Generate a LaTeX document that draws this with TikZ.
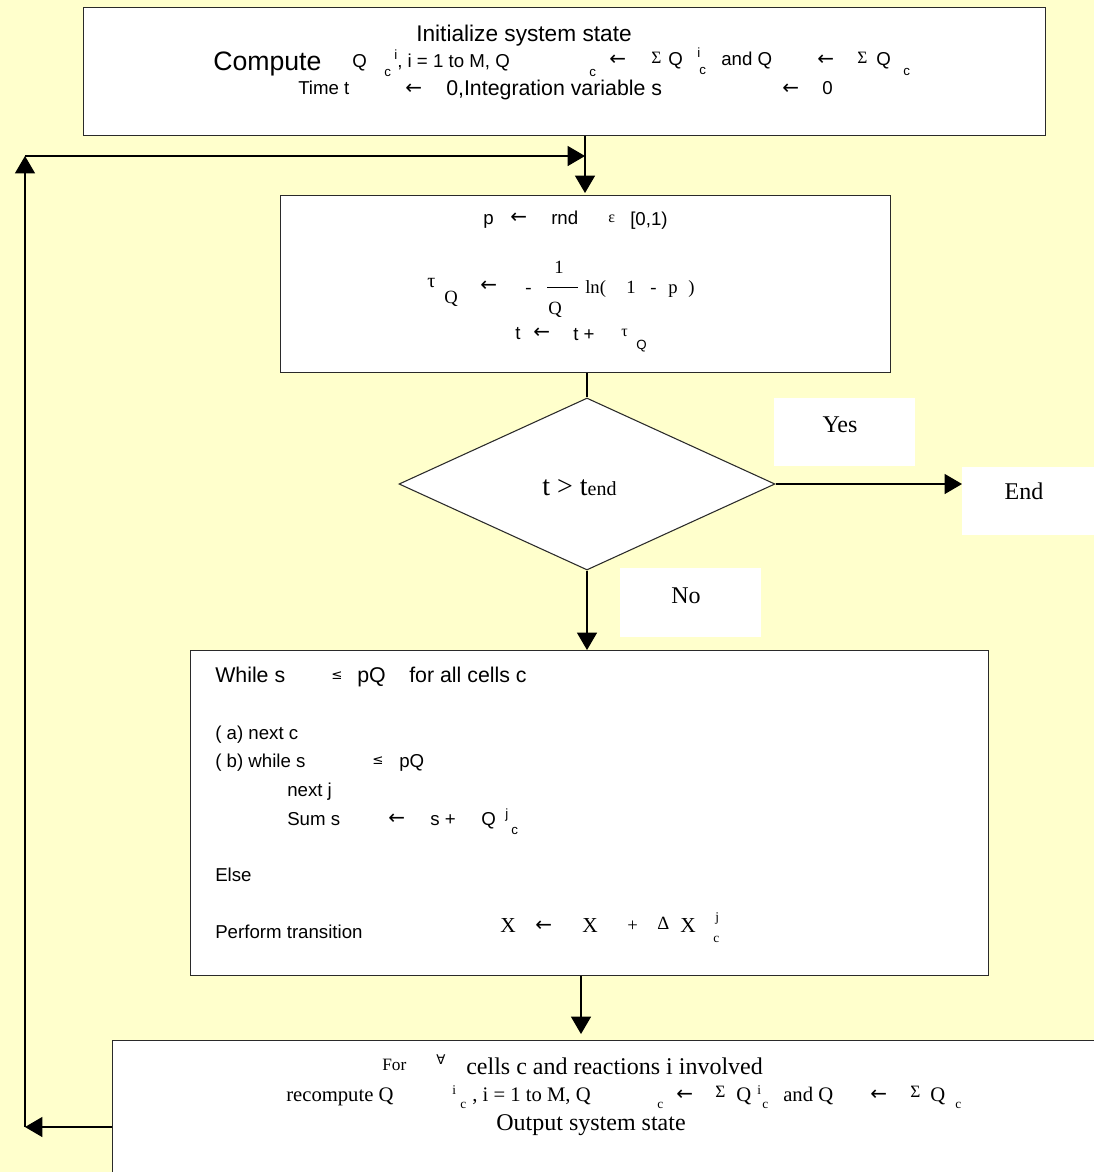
\documentclass[tikz,border=0pt]{standalone}
\usepackage{fontspec}
\setmainfont{Liberation Serif}
\setsansfont{Liberation Sans}
\newfontfamily\symf{DejaVu Sans}
\usetikzlibrary{arrows.meta,shapes.geometric}
\newcommand{\fsz}[1]{\fontsize{#1}{#1}\selectfont}
\definecolor{bgyellow}{HTML}{FFFFCC}
\definecolor{edge}{HTML}{2A2A2A}
\begin{document}
\begin{tikzpicture}[x=0.75pt,y=-0.75pt,
 box/.style={draw=edge, line width=1pt, fill=white, inner sep=0, anchor=north west},
 lab/.style={fill=white, inner sep=0, anchor=north west},
 arr/.style={line width=0.8pt, -{Triangle[length=13pt,width=15pt]}},
 tx/.style={inner sep=0, anchor=mid west, yshift=-3pt},
 sa/.style={tx, font=\sffamily\fsz{14}},
 sb/.style={tx, font=\sffamily\fsz{16}},
 sx/.style={tx, font=\sffamily\fsz{10}},
 ra/.style={tx, font=\rmfamily\fsz{14}},
 rb/.style={tx, font=\rmfamily\fsz{16}},
 rx/.style={tx, font=\rmfamily\fsz{10}},
 rg/.style={tx, font=\rmfamily\fsz{13}},
 ar/.style={tx, font=\symf\fsz{15}, yshift=-1pt},
]
\useasboundingbox (0,0) rectangle (1094,1172);
\clip (0,0) rectangle (1094,1172);
\fill[bgyellow] (0,0) rectangle (1094,1172);

% ---------- boxes ----------
\node[box, minimum width=962*0.75pt, minimum height=128*0.75pt] (init) at (83,7) {};
\node[box, minimum width=610*0.75pt, minimum height=177*0.75pt] (calc) at (280,195) {};
\node[draw=edge, line width=0.8pt, fill=white, diamond, inner sep=0,
      minimum width=376*0.75pt, minimum height=172*0.75pt] (dec) at (587,484) {};
\node[lab, minimum width=141*0.75pt, minimum height=68*0.75pt] (yesbox) at (774,398) {};
\node[lab, minimum width=132*0.75pt, minimum height=68*0.75pt] (endbox) at (962,467) {};
\node[lab, minimum width=141*0.75pt, minimum height=69*0.75pt] (nobox) at (620,568) {};
\node[box, minimum width=798*0.75pt, minimum height=325*0.75pt] (loop) at (190,650) {};
\node[box, minimum width=1000*0.75pt, minimum height=200*0.75pt] (upd) at (112,1040) {};

\node[tx, font=\rmfamily\fsz{21}] (cond) at (542,488) {t > t{\fsz{15}end}};
\node[tx, anchor=mid, font=\rmfamily\fsz{18}] (yes) at (840,425) {Yes};
\node[tx, anchor=mid, font=\rmfamily\fsz{18}] (endt) at (1024,492) {End};
\node[tx, anchor=mid, font=\rmfamily\fsz{18}] (no) at (686,596) {No};

% ---------- top box text ----------
\node[tx, anchor=mid, font=\sffamily\fsz{17}] (t1) at (524,34) {Initialize system state};
\node[tx, font=\sffamily\fsz{20}] (t2) at (213,63) {Compute};
\node[sa] (t3) at (352,60) {Q};
\node[sx] (t4) at (394,52) {i};
\node[sx] (t5) at (384,69) {c};
\node[sa] (t6) at (397,60) {, i = 1 to M, Q};
\node[sx] (t7) at (589,69) {c};
\node[ar] (t8) at (609,57) {←};
\node[rg] (t9) at (651,56) {Σ};
\node[sa] (t10) at (668,58) {Q};
\node[sx] (t11) at (697,50) {i};
\node[sx] (t12) at (699,67) {c};
\node[sa] (t13) at (721,58) {and Q};
\node[ar] (t14) at (817,57) {←};
\node[rg] (t15) at (857,56) {Σ};
\node[sa] (t16) at (876,58) {Q};
\node[sx] (t17) at (903,68) {c};
\node[sa] (t18) at (298,87) {Time t};
\node[ar] (t19) at (405,86) {←};
\node[sb] (t20) at (446,88) {0,Integration variable s};
\node[ar] (t21) at (782,86) {←};
\node[sa] (t22) at (822,87) {0};

% ---------- second box text ----------
\node[sa] (c1) at (483,217) {p};
\node[ar] (c2) at (510,215) {←};
\node[sa] (c3) at (551,217) {rnd};
\node[tx, font=\rmfamily\fsz{12}] (c4) at (608,215) {ε};
\node[sa] (c5) at (630,218) {[0,1)};
\node[tx, font=\rmfamily\fsz{15}] (c6) at (427,280) {τ};
\node[ra] (c7) at (444,296) {Q};
\node[ar] (c8) at (480,283) {←};
\node[ra] (c9) at (525,286) {-};
\node[ra] (c10) at (554,266) {1};
\draw[line width=0.6pt] (547,287) -- (578,287);
\node[ra] (c11) at (548,307) {Q};
\node[ra] (c12) at (585,286) {ln(};
\node[ra] (c13) at (626,286) {1};
\node[ra] (c14) at (650,286) {-};
\node[ra] (c15) at (668,286) {p};
\node[ra] (c16) at (688,286) {)};
\node[sa] (c17) at (515,332) {t};
\node[ar] (c18) at (533,330) {←};
\node[sa] (c19) at (573,333) {t +};
\node[tx, font=\rmfamily\fsz{12}] (c20) at (621,329) {τ};
\node[sx] (c21) at (636,342) {Q};

% ---------- loop box text ----------
\node[sb] (l1) at (215,675) {While s};
\node[tx, font=\symf\fsz{10}] (l2) at (331,672) {≤};
\node[sb] (l3) at (357,675) {pQ};
\node[sb] (l4) at (409,675) {for all cells c};
\node[sa] (l5) at (215,732) {( a) next c};
\node[sa] (l6) at (215,760) {( b) while s};
\node[tx, font=\symf\fsz{10}] (l7) at (372,757) {≤};
\node[sa] (l8) at (399,760) {pQ};
\node[sa] (l9) at (287,789) {next j};
\node[sa] (l10) at (287,818) {Sum s};
\node[ar] (l11) at (388,816) {←};
\node[sa] (l12) at (430,818) {s +};
\node[sa] (l13) at (481,818) {Q};
\node[sx] (l14) at (505,811) {j};
\node[sx] (l15) at (511,827) {c};
\node[sa] (l16) at (215,874) {Else};
\node[sa] (l17) at (215,931) {Perform transition};
\node[rb] (l18) at (500,925) {X};
\node[ar] (l19) at (535,923) {←};
\node[rb] (l20) at (582,925) {X};
\node[ra] (l21) at (627,924) {+};
\node[ra] (l22) at (657,922) {Δ};
\node[rb] (l23) at (680,925) {X};
\node[rx] (l24) at (715,914) {j};
\node[rx] (l25) at (713,935) {c};

% ---------- bottom box text ----------
\node[rg] (b1) at (382,1063) {For};
\node[tx, font=\symf\fsz{10}] (b2) at (436,1057) {∀};
\node[tx, font=\rmfamily\fsz{18}] (b3) at (466,1067) {cells c and reactions i involved};
\node[tx, font=\rmfamily\fsz{15.5}] (b4) at (286,1094) {recompute Q};
\node[rx] (b5) at (452,1087) {i};
\node[rx] (b6) at (460,1101) {c};
\node[tx, font=\rmfamily\fsz{15.5}] (b7) at (472,1094) {, i = 1 to M, Q};
\node[rx] (b8) at (657,1101) {c};
\node[ar] (b9) at (676,1092) {←};
\node[rg] (b10) at (715,1090) {Σ};
\node[tx, font=\rmfamily\fsz{15.5}] (b11) at (736,1094) {Q};
\node[rx] (b12) at (757,1087) {i};
\node[rx] (b13) at (762,1101) {c};
\node[tx, font=\rmfamily\fsz{15.5}] (b14) at (783,1094) {and Q};
\node[ar] (b15) at (870,1092) {←};
\node[rg] (b16) at (910,1090) {Σ};
\node[tx, font=\rmfamily\fsz{15.5}] (b17) at (930,1094) {Q};
\node[rx] (b18) at (955,1101) {c};
\node[tx, anchor=mid, font=\rmfamily\fsz{18}] (b19) at (591,1123) {Output system state};

% ---------- connectors ----------
\coordinate (ltop) at (25,156);
\coordinate (lbot) at (25,1127);
\coordinate (join) at (585,156);
\coordinate (a5) at (581,1034);
\draw[arr] (join |- init.south) -- ([yshift=1.5pt]join |- calc.north);
\draw[arr] (ltop) -- (join);
\draw[arr] (lbot) -- (ltop);
\draw[arr] (upd.north west |- lbot) -- (lbot);
\draw[line width=0.8pt] (dec.north |- calc.south) -- (dec.north);
\draw[arr] (dec.east) -- (dec.east -| endbox.west);
\draw[arr] (dec.south) -- (dec.south |- loop.north);
\draw[arr] (loop.south -| a5) -- (a5);
\end{tikzpicture}
\end{document}
